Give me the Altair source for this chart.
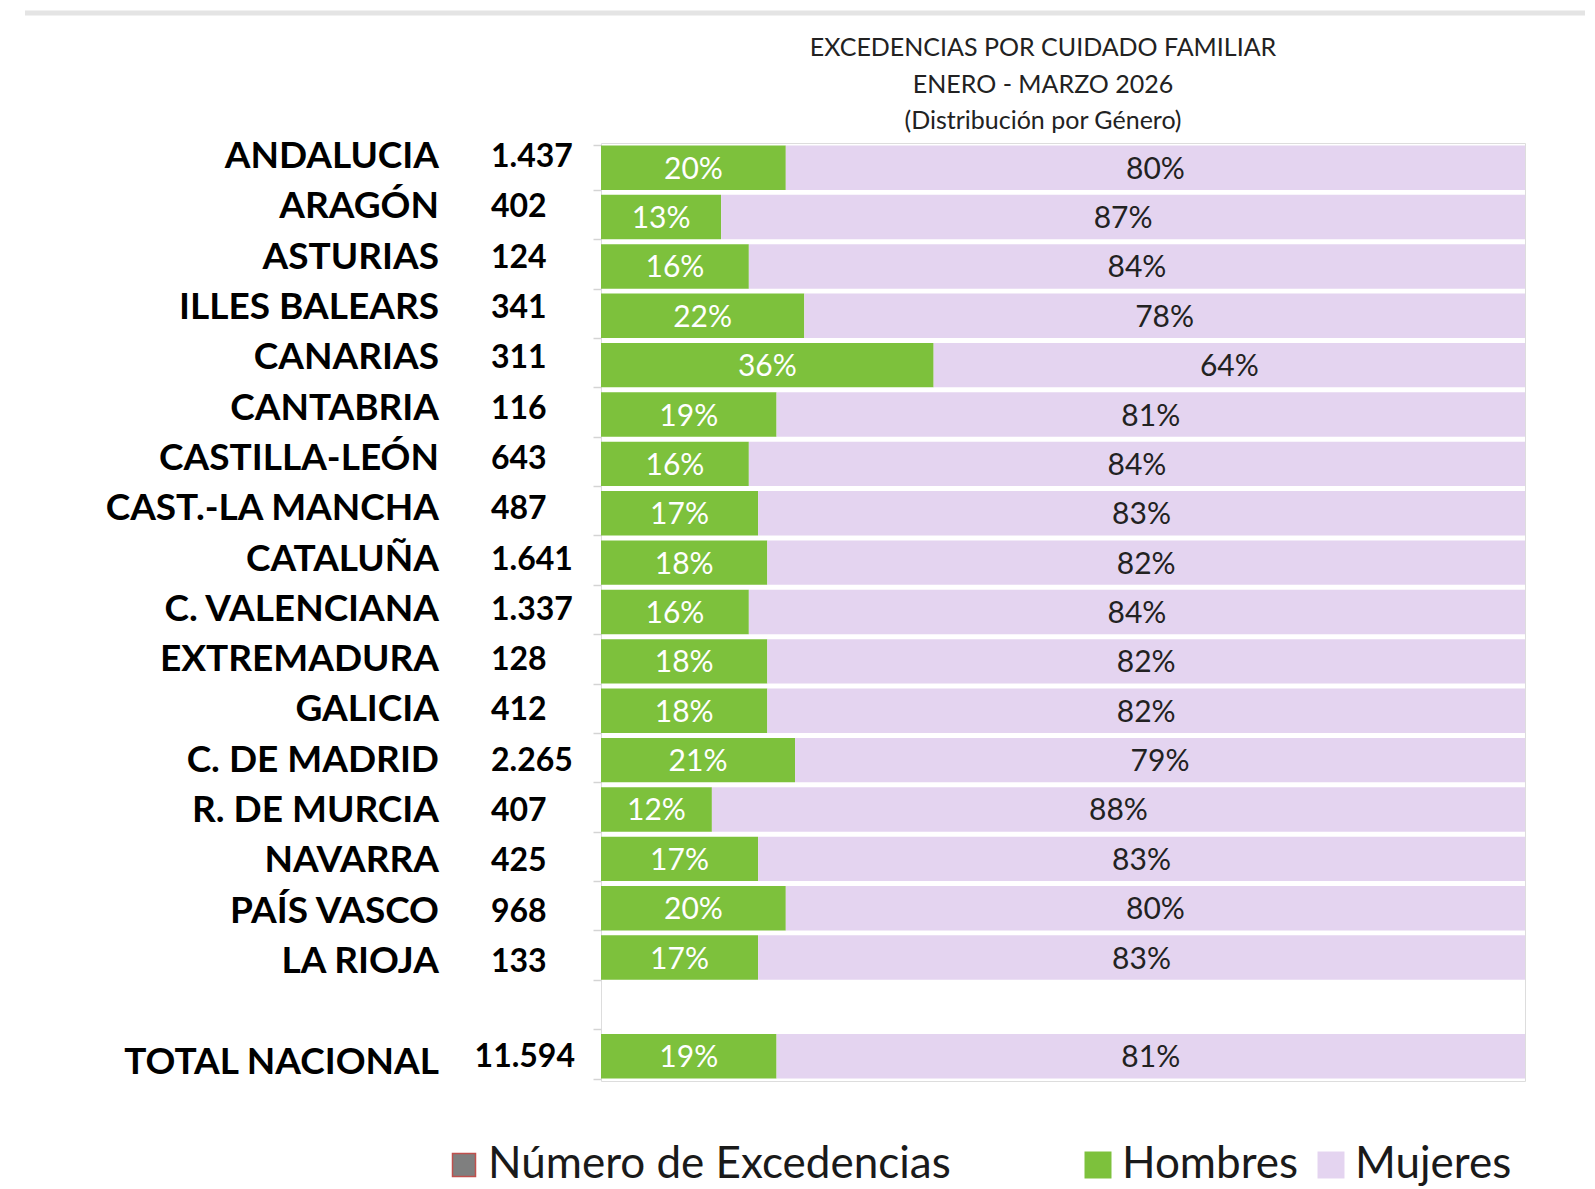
import altair as alt
import pandas as pd

# ---- data ----
regions = ["ANDALUCIA", "ARAGÓN", "ASTURIAS", "ILLES BALEARS", "CANARIAS",
           "CANTABRIA", "CASTILLA-LEÓN", "CAST.-LA MANCHA", "CATALUÑA",
           "C. VALENCIANA", "EXTREMADURA", "GALICIA", "C. DE MADRID",
           "R. DE MURCIA", "NAVARRA", "PAÍS VASCO", "LA RIOJA", "TOTAL NACIONAL"]
totals = ["1.437", "402", "124", "341", "311", "116", "643", "487", "1.641",
          "1.337", "128", "412", "2.265", "407", "425", "968", "133", "11.594"]
hombres = [20, 13, 16, 22, 36, 19, 16, 17, 18, 16, 18, 18, 21, 12, 17, 20, 17, 19]
mujeres = [80, 87, 84, 78, 64, 81, 84, 83, 82, 84, 82, 82, 79, 88, 83, 80, 83, 81]
generos = ["Hombres", "Mujeres"]
legend_num = "Número de Excedencias"
title_lines = ["EXCEDENCIAS POR CUIDADO FAMILIAR", "ENERO - MARZO 2026",
               "(Distribución por Género)"]

TOTAL = regions[-1]
BLANK = " "
y_domain = regions[:-1] + [BLANK] + [TOTAL]

rows = []
for r, h, m in zip(regions, hombres, mujeres):
    rows.append({"region": r, "genero": generos[0], "pct": h, "ord": 0})
    rows.append({"region": r, "genero": generos[1], "pct": m, "ord": 1})
bars_df = pd.DataFrame(rows)
tot_df = pd.DataFrame({"region": regions, "total": totals, "leg": legend_num})

FONT = "Lato"
GREEN = "#7DC13C"
PURPLE = "#E4D4F0"
GRAYLINE = "#d4d4d4"

# band scale for the bars
yscale = alt.Scale(domain=y_domain, paddingInner=0.1, paddingOuter=0.05)
# the row labels / numbers table sits on a slightly different row pitch
ylab_scale = alt.Scale(domain=y_domain, paddingInner=0, paddingOuter=0,
                       range=[-11, 944.7])

yaxis = alt.Axis(title=None, labels=False, domain=False, tickSize=8, tickBand="extent",
                 tickColor=GRAYLINE, tickWidth=1.5)

xscale = alt.Scale(domain=[0, 100], nice=False, zero=True)

base = alt.Chart(bars_df).transform_stack(
    stack="pct", groupby=["region"], as_=["x0", "x1"],
    sort=[alt.SortField("ord", "ascending")]
).transform_calculate(
    mid="(datum.x0 + datum.x1) / 2",
    label="datum.pct + '%'"
)

bars = base.mark_bar().encode(
    x=alt.X("x0:Q", scale=xscale, axis=None),
    x2="x1:Q",
    y=alt.Y("region:N", scale=yscale, axis=yaxis),
    color=alt.Color("genero:N",
                    scale=alt.Scale(domain=generos, range=[GREEN, PURPLE]),
                    legend=alt.Legend(title=None, orient="none", legendX=475, legendY=1000,
                                      direction="horizontal", labelFont=FONT,
                                      labelFontSize=44, labelColor="#1a1a1a",
                                      labelLimit=600, symbolType="square",
                                      symbolSize=729, labelOffset=2,
                                      columnPadding=10, padding=0)),
)

pct_text = base.mark_text(font=FONT, fontSize=30, baseline="middle", align="center", dy=2).encode(
    x=alt.X("mid:Q", scale=xscale, axis=None),
    y=alt.Y("region:N", scale=yscale, axis=None),
    text="label:N",
    color=alt.condition("datum.genero == 'Hombres'", alt.value("#ffffff"), alt.value("#222222")),
)

region_text = alt.Chart(tot_df).mark_text(
    font=FONT, fontSize=37, fontWeight="bold", align="right", baseline="middle", color="#000000"
).encode(
    x=alt.value(-162),
    y=alt.Y("region:N", scale=ylab_scale, axis=None),
    text="region:N",
)

num_text = alt.Chart(tot_df).transform_filter(
    alt.datum.region != TOTAL
).mark_text(
    font=FONT, fontSize=32, fontWeight="bold", align="left", baseline="middle", color="#000000"
).encode(
    x=alt.value(-110),
    y=alt.Y("region:N", scale=ylab_scale, axis=None),
    text="total:N",
)

total_num_text = alt.Chart(tot_df).transform_filter(
    alt.datum.region == TOTAL
).mark_text(
    font=FONT, fontSize=32, fontWeight="bold", align="right", baseline="middle",
    color="#000000", dy=-6
).encode(
    x=alt.value(-26),
    y=alt.Y("region:N", scale=ylab_scale, axis=None),
    text="total:N",
)

dummy = alt.Chart(tot_df).mark_bar(strokeWidth=0).encode(
    x=alt.datum(0),
    x2=alt.datum(0),
    y=alt.Y("region:N", scale=yscale, axis=None),
    fill=alt.Fill("leg:N", scale=alt.Scale(domain=[legend_num], range=["#7f7f7f"]),
                  legend=alt.Legend(title=None, orient="none", legendX=-159, legendY=1000,
                                    labelFont=FONT, labelFontSize=44, labelColor="#1a1a1a",
                                    labelLimit=700, symbolType="square", symbolSize=529,
                                    labelOffset=2, symbolStrokeColor="#c0504d",
                                    symbolStrokeWidth=1.5, padding=0)),
)

one = pd.DataFrame({"a": [0]})
title_text = alt.Chart(one).mark_text(
    font=FONT, fontSize=25, align="center", baseline="middle", lineHeight=36.5, color="#222222"
).encode(
    x=alt.value(442), y=alt.value(-95), text=alt.value(title_lines)
)

top_rule = alt.Chart(one).mark_rule(color="#e4e4e4", strokeWidth=5).encode(
    x=alt.value(-576), x2=alt.value(986), y=alt.value(-130)
)

chart = alt.layer(
    top_rule, title_text, bars, pct_text, region_text, num_text, total_num_text, dummy
).resolve_scale(
    y="independent"
).properties(
    width=924,
    height=938,
    padding={"left": 593, "top": 135, "right": 60, "bottom": 108},
    autosize=alt.AutoSizeParams(type="none"),
).configure_view(stroke=None).configure(background="white")

chart.save("out.html", embed_options={"renderer": "svg", "actions": False})
